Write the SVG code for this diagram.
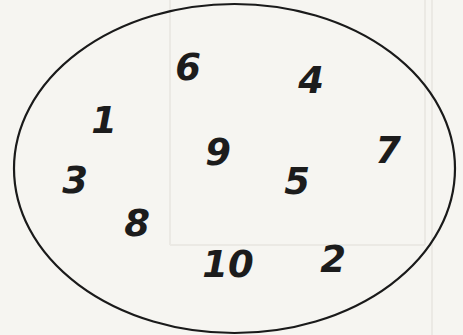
<svg xmlns="http://www.w3.org/2000/svg" width="463" height="335" viewBox="0 0 463 335">
<style>
.gl{stroke:#ebe9e4;stroke-width:2;fill:none}
.num{font-family:"DejaVu Sans","Liberation Sans",sans-serif;font-size:37px;font-weight:bold;font-style:italic;fill:#1c1c1c;text-anchor:middle}
.oval{fill:none;stroke:#1a1a1a;stroke-width:2.2}
</style>
<rect width="463" height="335" fill="#f6f5f1"/>
<g id="background-page">
<line class="gl" x1="170" y1="0" x2="170" y2="245"/>
<line class="gl" x1="425" y1="0" x2="425" y2="245"/>
<line class="gl" x1="170" y1="245" x2="425" y2="245"/>
<line class="gl" x1="432" y1="0" x2="432" y2="335"/>
</g>
<g id="set">
<ellipse class="oval" cx="234.5" cy="168.5" rx="220.5" ry="164.5"/>
</g>
<g id="n6"><text class="num" x="188" y="80">6</text></g>
<g id="n4"><text class="num" x="311" y="93">4</text></g>
<g id="n1"><text class="num" x="104" y="133">1</text></g>
<g id="n9"><text class="num" x="218" y="165">9</text></g>
<g id="n7"><text class="num" x="388" y="163">7</text></g>
<g id="n3"><text class="num" x="75" y="193">3</text></g>
<g id="n5"><text class="num" x="297" y="194">5</text></g>
<g id="n8"><text class="num" x="137" y="236">8</text></g>
<g id="n10"><text class="num" x="228" y="277">10</text></g>
<g id="n2"><text class="num" x="333" y="272">2</text></g>
<g id="connectors"></g>
</svg>
